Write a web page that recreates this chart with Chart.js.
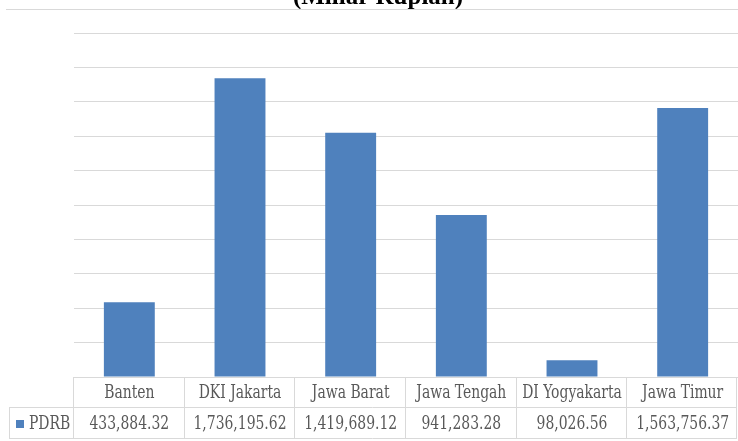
<!DOCTYPE html>
<html>
<head>
<meta charset="utf-8">
<script src="https://cdn.jsdelivr.net/npm/chart.js@4"></script>
<style>
  html, body { margin: 0; padding: 0; background: #fff; }
  #wrap { width: 738px; height: 441px; }
</style>
</head>
<body>
<div id="wrap"><canvas id="myChart" width="738" height="441"></canvas></div>
<script>
// data
const provinsi = ['Banten', 'DKI Jakarta', 'Jawa Barat', 'Jawa Tengah', 'DI Yogyakarta', 'Jawa Timur'];
const pdrb = [433884.32, 1736195.62, 1419689.12, 941283.28, 98026.56, 1563756.37];
const pdrbLabel = ['433,884.32', '1,736,195.62', '1,419,689.12', '941,283.28', '98,026.56', '1,563,756.37'];
const judul = '(Miliar Rupiah)';
const namaSeri = 'PDRB';

const biru = '#4F81BD';
const garis = '#D9D9D9';
const abu = '#595959';
const hurufTabel = '18px "DejaVu Serif Condensed", "Liberation Serif", serif';
const peras = 0.86; // text in the table is narrow

// condensed text helper
function tulis(ctx, teks, x, y, rata) {
  ctx.save();
  ctx.translate(x, y);
  ctx.scale(peras, 1);
  ctx.textAlign = rata;
  ctx.fillText(teks, 0, 0);
  ctx.restore();
}

// table under the bars + the cut title on top
const tabelData = {
  id: 'tabelData',
  afterDraw(chart) {
    const ctx = chart.ctx;
    const x = chart.scales.x;
    const a = chart.chartArea;
    const kiri = a.left, kanan = a.right;
    const y0 = a.bottom, y1 = y0 + 30, y2 = y1 + 32;
    const lebar = (kanan - kiri) / provinsi.length;
    const tepiKanan = 736;

    ctx.save();
    // title, only bottom half is visible
    ctx.fillStyle = '#000';
    ctx.font = 'bold 25px "Liberation Serif", "Times New Roman", serif';
    ctx.textAlign = 'center';
    ctx.textBaseline = 'alphabetic';
    ctx.fillText(judul, 378, 4);

    ctx.strokeStyle = garis;
    ctx.lineWidth = 1;
    ctx.beginPath();
    ctx.moveTo(6, 9.5); ctx.lineTo(738, 9.5);
    // rows
    ctx.moveTo(kiri, y0 + 0.5); ctx.lineTo(tepiKanan, y0 + 0.5);
    ctx.moveTo(9, y1 + 0.5); ctx.lineTo(tepiKanan, y1 + 0.5);
    ctx.moveTo(9, y2 - 0.5); ctx.lineTo(tepiKanan, y2 - 0.5);
    // columns
    ctx.moveTo(9.5, y1); ctx.lineTo(9.5, y2);
    for (let i = 0; i < provinsi.length; i++) {
      const xx = Math.round(kiri + i * lebar) - 0.5;
      ctx.moveTo(xx, y0); ctx.lineTo(xx, y2);
    }
    ctx.moveTo(tepiKanan + 0.5, y0); ctx.lineTo(tepiKanan + 0.5, y2);
    ctx.stroke();

    ctx.fillStyle = abu;
    ctx.font = hurufTabel;
    ctx.textBaseline = 'middle';
    provinsi.forEach((p, i) => {
      const cx = x.getPixelForValue(i);
      tulis(ctx, p, cx, (y0 + y1) / 2 + 1, 'center');
      tulis(ctx, pdrbLabel[i], cx, (y1 + y2) / 2 + 1, 'center');
    });

    // legend key
    ctx.fillStyle = biru;
    ctx.fillRect(16, 420, 8, 8);
    ctx.fillStyle = abu;
    tulis(ctx, namaSeri, 29, (y1 + y2) / 2 + 1, 'left');
    ctx.restore();
  }
};

const ctx = document.getElementById('myChart');
const myChart = new Chart(ctx, {
  type: 'bar',
  data: {
    labels: provinsi,
    datasets: [{
      label: namaSeri,
      data: pdrb,
      backgroundColor: biru,
      borderWidth: 0,
      barPercentage: 0.46,
      categoryPercentage: 1
    }]
  },
  options: {
    responsive: false,
    animation: false,
    devicePixelRatio: 1,
    layout: { padding: { left: 74, right: -7, top: 33, bottom: 64 } },
    plugins: {
      legend: { display: false },
      tooltip: { enabled: false },
      title: { display: false }
    },
    scales: {
      x: { display: false },
      y: {
        min: 0,
        max: 2000000,
        ticks: { display: false, stepSize: 200000 },
        grid: { color: garis, drawTicks: false, lineWidth: 1 },
        border: { display: false }
      }
    }
  },
  plugins: [tabelData]
});
</script>
</body>
</html>
